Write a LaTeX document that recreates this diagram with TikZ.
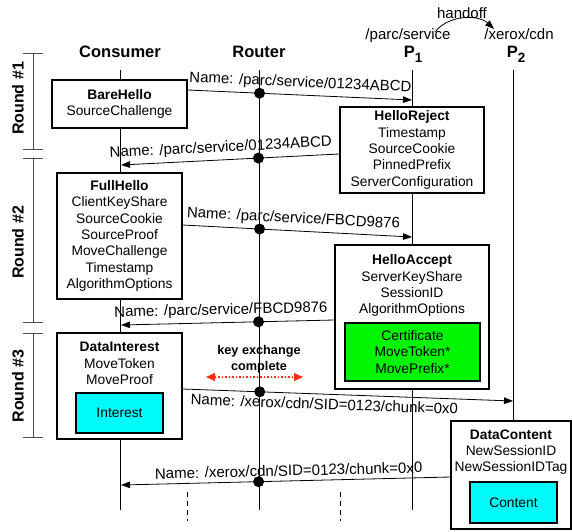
\documentclass[tikz,border=0pt]{standalone}
\usepackage{fontspec}
\setmainfont{Liberation Sans}
\usetikzlibrary{arrows.meta, positioning, calc}

\definecolor{certgreen}{RGB}{0,245,0}
\definecolor{payloadcyan}{RGB}{0,250,250}
\definecolor{keyred}{RGB}{255,45,20}

\begin{document}
\begin{tikzpicture}[
    x=1pt, y=-1pt,
    >={Triangle[length=9pt, width=6.5pt]},
    msgbox/.style={
        draw=black, fill=white, line width=1.6pt, align=center, inner sep=0pt,
        font=\fontsize{13.8pt}{16.3pt}\selectfont
    },
    boxtext/.style={
        align=center, inner sep=0pt, anchor=north, font=\fontsize{13.8pt}{16.3pt}\selectfont
    },
    payload/.style={
        draw=black, line width=1.5pt, align=center, inner sep=0pt,
        font=\fontsize{13.8pt}{16.3pt}\selectfont
    },
    lifeline/.style={line width=0.9pt, draw=black},
    header/.style={anchor=base, font=\fontsize{16.5pt}{18pt}\selectfont\bfseries},
    nspace/.style={anchor=base, font=\fontsize{15pt}{17pt}\selectfont},
    flow/.style={->, line width=0.8pt, draw=black},
    namelabel/.style={sloped, inner sep=2pt, font=\fontsize{15pt}{17pt}\selectfont},
    hop/.style={circle, fill=black, inner sep=0pt, minimum size=11pt},
    roundbar/.style={{Bar[width=20pt]}-{Bar[width=20pt]}, line width=0.8pt, draw=black!70},
    roundlabel/.style={rotate=90, font=\fontsize{16pt}{18pt}\selectfont\bfseries}
]
    \useasboundingbox (0,0) rectangle (572,531);

    % Lifelines
    \coordinate (cons-top) at (120,70);  \coordinate (cons-bot) at (120,510);
    \coordinate (rtr-top) at (259,70);   \coordinate (rtr-bot) at (259,510);
    \coordinate (p1-top) at (412,70);    \coordinate (p1-bot) at (412,510);
    \coordinate (p2-top) at (513,70);    \coordinate (p2-bot) at (513,430);
    \draw[lifeline] (cons-top) -- (cons-bot);
    \draw[lifeline] (rtr-top) -- (rtr-bot);
    \draw[lifeline] (p1-top) -- (p1-bot);
    \draw[lifeline] (p2-top) -- (p2-bot);
    \draw[line width=0.8pt, dash pattern=on 5pt off 4pt] (187,492) -- (187,521);
    \draw[line width=0.8pt, dash pattern=on 5pt off 4pt] (340,492) -- (340,521);

    % Headers
    \node[header] (consumer) at (120,57) {Consumer};
    \node[header] (router) at (259,57) {Router};
    \node[header] (p1) at (413,57) {P\raisebox{-5pt}{\fontsize{13.5pt}{14pt}\selectfont 1}};
    \node[header] (p2) at (516,57) {P\raisebox{-5pt}{\fontsize{13.5pt}{14pt}\selectfont 2}};
    \node[nspace] (parc) at (408,39) {/parc/service};
    \node[nspace] (xerox) at (519,39) {/xerox/cdn};
    \node[nspace] (handoff) at (462,18) {handoff};
    \coordinate (handoff-from) at (435,32);
    \coordinate (handoff-to) at (494,29);
    \draw[->, line width=0.8pt] (handoff-from) .. controls (448,15) and (478,14) .. (handoff-to);

    % Rounds
    \coordinate (r1-top) at (33,53);   \coordinate (r1-bot) at (33,150);
    \coordinate (r2-top) at (33,158);  \coordinate (r2-bot) at (33,323);
    \coordinate (r3-top) at (33,333);  \coordinate (r3-bot) at (33,438);
    \draw[roundbar] (r1-top) -- (r1-bot);
    \draw[roundbar] (r2-top) -- (r2-bot);
    \draw[roundbar] (r3-top) -- (r3-bot);
    \node[roundlabel] (round1) at (18,98.5) {Round \#1};
    \node[roundlabel] (round2) at (18,242.5) {Round \#2};
    \node[roundlabel] (round3) at (18,386) {Round \#3};

    % Message boxes
    \node[msgbox, minimum width=135pt, minimum height=48pt] (barehello) at (119.5,104)
        {\textbf{BareHello}\\SourceChallenge};
    \node[msgbox, minimum width=144pt, minimum height=86pt] (helloreject) at (412,150)
        {\textbf{HelloReject}\\Timestamp\\SourceCookie\\PinnedPrefix\\ServerConfiguration};
    \node[msgbox, minimum width=125pt, minimum height=126pt] (fullhello) at (119.5,236)
        {\textbf{FullHello}\\ClientKeyShare\\SourceCookie\\SourceProof\\MoveChallenge\\Timestamp\\AlgorithmOptions};

    \node[msgbox, minimum width=154pt, minimum height=144pt] (helloaccept) at (412,317) {};
    \node[boxtext] (helloaccept-text) at ([yshift=-10.5pt]helloaccept.north)
        {\textbf{HelloAccept}\\ServerKeyShare\\SessionID\\AlgorithmOptions};
    \node[payload, fill=certgreen, minimum width=135pt, minimum height=58pt] (certbox) at (412.5,352)
        {Certificate\\MoveToken*\\MovePrefix*};

    \node[msgbox, minimum width=125pt, minimum height=106pt] (datainterest) at (119.5,386) {};
    \node[boxtext] (datainterest-text) at ([yshift=-10pt]datainterest.north)
        {\textbf{DataInterest}\\MoveToken\\MoveProof};
    \node[payload, fill=payloadcyan, minimum width=87pt, minimum height=40pt] (interest) at (119.5,413) {Interest};

    \node[msgbox, minimum width=120pt, minimum height=108pt] (datacontent) at (511,475) {};
    \node[boxtext] (datacontent-text) at ([yshift=-9pt]datacontent.north)
        {\textbf{DataContent}\\NewSessionID\\NewSessionIDTag};
    \node[payload, fill=payloadcyan, minimum width=87pt, minimum height=41pt] (content) at (513.5,502.5) {Content};

    % Message ends on the lifelines
    \coordinate (m1-end) at (412,100);
    \coordinate (m2-end) at (121,165);
    \coordinate (m3-end) at (412,237);
    \coordinate (m4-end) at (121,325);
    \coordinate (m5-end) at (513,401);
    \coordinate (m6-end) at (121,485);

    % Messages
    \draw[flow] ([yshift=14pt]barehello.east) -- (m1-end)
        node[hop, pos=0.32] (hop1) {}
        node[namelabel, midway, above=2.5pt] {Name: /parc/service/01234ABCD};
    \draw[flow] ([yshift=-4pt]helloreject.west) -- (m2-end)
        node[hop, pos=0.37] (hop2) {}
        node[namelabel, pos=0.54, above=2.5pt] {Name: /parc/service/01234ABCD};
    \draw[flow] ([yshift=11pt]fullhello.east) -- (m3-end)
        node[hop, pos=0.335] (hop3) {}
        node[namelabel, pos=0.48, above=2.5pt] {Name: /parc/service/FBCD9876};
    \draw[flow] ([yshift=-3pt]helloaccept.west) -- (m4-end)
        node[hop, pos=0.355] (hop4) {}
        node[namelabel, pos=0.53, above=2.5pt] {Name: /parc/service/FBCD9876};
    \draw[flow] ([yshift=-3pt]datainterest.east) -- (m5-end)
        node[hop, pos=0.233] (hop5) {}
        node[namelabel, pos=0.43, below=2pt] {Name: /xerox/cdn/SID=0123/chunk=0x0};
    \draw[flow] ([yshift=-2pt]datacontent.west) -- (m6-end)
        node[hop, pos=0.582] (hop6) {}
        node[namelabel, pos=0.49, above=2.5pt] {Name: /xerox/cdn/SID=0123/chunk=0x0};

    % Key exchange
    \node[align=center, inner sep=0pt, font=\fontsize{12.7pt}{16pt}\selectfont\bfseries] (keyex) at (259,359)
        {key exchange\\complete};
    \coordinate (key-left) at (206,377);
    \coordinate (key-right) at (303,377);
    \draw[{Triangle[length=9pt, width=8pt]}-{Triangle[length=9pt, width=8pt]}, draw=keyred, fill=keyred,
          line width=1.1pt, dash pattern=on 1.5pt off 2pt] (key-left) -- (key-right);

\end{tikzpicture}
\end{document}
